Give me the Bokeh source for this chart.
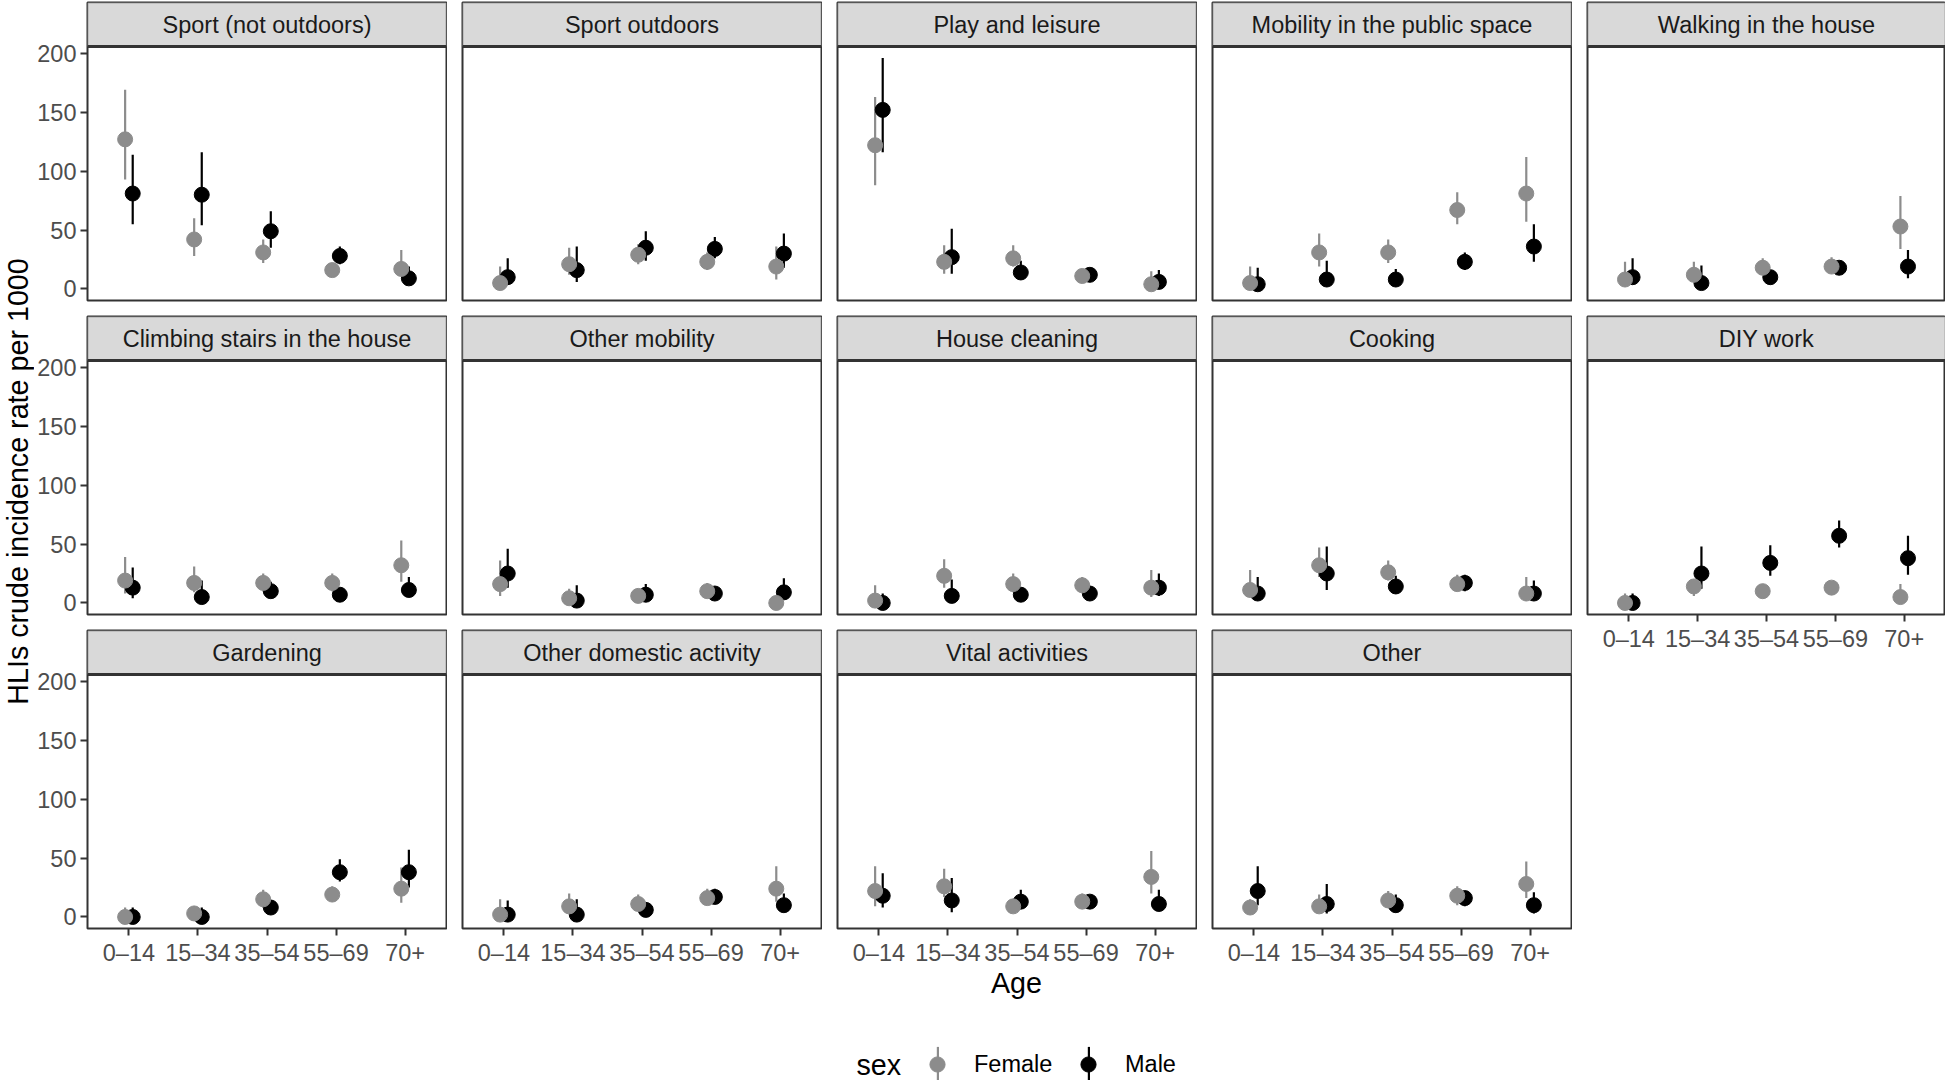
import math
from bokeh.plotting import figure
from bokeh.models import (Range1d, FixedTicker, Label, Legend, LegendItem, ColumnDataSource,
                          BoxAnnotation, Span)
from bokeh.layouts import row, column
from bokeh.embed import file_html
from bokeh.resources import INLINE

# ---------------- data ----------------
ages = ["0–14", "15–34", "35–54", "55–69", "70+"]
sexes = ["Female", "Male"]
activities = [
    "Sport (not outdoors)", "Sport outdoors", "Play and leisure",
    "Mobility in the public space", "Walking in the house",
    "Climbing stairs in the house", "Other mobility", "House cleaning",
    "Cooking", "DIY work", "Gardening", "Other domestic activity",
    "Vital activities", "Other",
]
y_ticks = [0, 50, 100, 150, 200]

# (rate, lower, upper) per age group
sport_indoor_female = [(127, 93, 169), (42, 28, 60), (31, 22, 42), (16, 12, 21), (17, 11, 33)]
sport_indoor_male = [(81, 55, 114), (80, 54, 116), (49, 35, 66), (28, 21, 36), (9, 4, 19)]
sport_outdoor_female = [(5, 2, 19), (21, 12, 35), (29, 21, 38), (23, 16, 31), (19, 8, 36)]
sport_outdoor_male = [(10, 4, 26), (16, 6, 36), (35, 24, 49), (34, 26, 44), (30, 18, 47)]
play_female = [(122, 88, 163), (23, 13, 37), (26, 19, 37), (11, 8, 15), (4, 0, 15)]
play_male = [(152, 116, 196), (27, 13, 51), (14, 8, 24), (12, 8, 16), (6, 1, 16)]
public_mobility_female = [(5, 2, 19), (31, 19, 47), (31, 22, 42), (67, 55, 82), (81, 57, 112)]
public_mobility_male = [(4, 1, 18), (8, 2, 24), (8, 2, 17), (23, 16, 31), (36, 23, 55)]
walking_female = [(8, 2, 23), (12, 8, 23), (18, 13, 26), (19, 14, 27), (53, 34, 79)]
walking_male = [(10, 4, 26), (5, 1, 20), (10, 5, 15), (18, 12, 23), (19, 9, 33)]
stairs_female = [(19, 8, 39), (17, 9, 31), (17, 10, 25), (17, 10, 25), (32, 18, 53)]
stairs_male = [(13, 4, 30), (5, 2, 19), (10, 5, 18), (7, 3, 12), (11, 6, 22)]
other_mobility_female = [(16, 6, 36), (4, 1, 12), (6, 2, 10), (10, 6, 17), (0, 0, 3)]
other_mobility_male = [(25, 13, 46), (2, 0, 15), (7, 3, 16), (8, 4, 13), (9, 5, 21)]
cleaning_female = [(2, 0, 15), (23, 13, 37), (16, 9, 25), (15, 9, 22), (13, 5, 28)]
cleaning_male = [(0, 0, 8), (6, 2, 20), (7, 3, 13), (8, 3, 13), (13, 6, 25)]
cooking_female = [(11, 5, 28), (32, 22, 47), (26, 19, 36), (16, 10, 24), (8, 3, 22)]
cooking_male = [(8, 3, 22), (25, 11, 48), (14, 8, 23), (17, 10, 24), (8, 3, 19)]
diy_female = [(0, 0, 8), (14, 6, 19), (10, 7, 14), (13, 9, 17), (5, 0, 16)]
diy_male = [(0, 0, 8), (25, 12, 48), (34, 23, 49), (57, 47, 70), (38, 24, 57)]
gardening_female = [(0, 0, 8), (3, 0, 9), (15, 8, 23), (19, 13, 26), (24, 12, 42)]
gardening_male = [(0, 0, 8), (0, 0, 8), (8, 4, 14), (38, 30, 49), (38, 25, 57)]
other_domestic_female = [(2, 0, 15), (9, 4, 20), (11, 6, 19), (16, 11, 24), (24, 13, 43)]
other_domestic_male = [(2, 0, 14), (2, 0, 15), (6, 1, 11), (17, 11, 24), (10, 5, 20)]
vital_female = [(22, 9, 43), (26, 17, 41), (9, 5, 14), (13, 8, 20), (34, 20, 56)]
vital_male = [(18, 8, 37), (14, 4, 33), (13, 8, 23), (13, 8, 18), (11, 5, 23)]
other_female = [(8, 3, 15), (9, 5, 19), (14, 8, 22), (18, 10, 26), (28, 16, 47)]
other_male = [(22, 10, 43), (11, 3, 28), (10, 4, 19), (16, 9, 21), (10, 3, 21)]

female_data = [sport_indoor_female, sport_outdoor_female, play_female, public_mobility_female,
               walking_female, stairs_female, other_mobility_female, cleaning_female,
               cooking_female, diy_female, gardening_female, other_domestic_female,
               vital_female, other_female]
male_data = [sport_indoor_male, sport_outdoor_male, play_male, public_mobility_male,
             walking_male, stairs_male, other_mobility_male, cleaning_male,
             cooking_male, diy_male, gardening_male, other_domestic_male,
             vital_male, other_male]

# ---------------- style / layout ----------------
FONT = "Liberation Sans"
FEMALE_COLOR = "#8C8C8C"
MALE_COLOR = "#000000"
BORDER = "#333333"
STRIP_FILL = "#D9D9D9"
TICK_FS = "23.5px"
TITLE_FS = "28.7px"
NCOL = 5
PW = 359            # panel width
PW_LAST = 358
PANEL_H = 254       # data area height
STRIP_H = 44        # facet strip height
TOP_B = 2
ROW_GAP = 14
GAP = 15
YLAB_W = 34
LEFT = 53
AXIS_H = 40
DODGE = 0.055
BOTTOM_H = 112

all_lo = [t[1] for d in female_data + male_data for t in d]
all_hi = [t[2] for d in female_data + male_data for t in d]
ymin, ymax = min(all_lo), max(all_hi)
pad = 0.05 * (ymax - ymin)
Y0, Y1 = ymin - pad, ymax + pad
YTOP = Y1 + STRIP_H * (Y1 - Y0) / PANEL_H
X0, X1 = 0.4, len(ages) + 0.6


def style_axis(ax):
    ax.major_label_text_font = FONT
    ax.major_label_text_font_size = TICK_FS
    ax.major_label_text_color = "#4D4D4D"
    ax.axis_line_color = None
    ax.major_tick_line_color = BORDER
    ax.major_tick_line_width = 2
    ax.major_tick_out = 7
    ax.major_tick_in = 0
    ax.minor_tick_line_color = None
    ax.major_label_standoff = 4


def make_panel(idx, c, show_x, show_y):
    bl = LEFT if c == 0 else GAP
    br = 0 if c == NCOL - 1 else 1
    pw = PW_LAST if c == NCOL - 1 else PW
    bb = AXIS_H if show_x else ROW_GAP
    p = figure(width=bl + pw + br, height=TOP_B + STRIP_H + PANEL_H + bb,
               x_range=Range1d(X0, X1), y_range=Range1d(Y0, YTOP),
               output_backend="svg", toolbar_location=None,
               x_axis_location="below" if show_x else None,
               y_axis_location="left" if show_y else None,
               min_border_left=bl, min_border_right=br, min_border_top=TOP_B,
               min_border_bottom=bb)
    p.grid.visible = False
    p.outline_line_color = BORDER
    p.outline_line_width = 2

    # facet strip
    p.add_layout(BoxAnnotation(bottom=Y1, fill_color=STRIP_FILL, fill_alpha=1.0,
                               line_color=BORDER, line_width=2))
    p.add_layout(Span(location=Y1, dimension="width", line_color=BORDER, line_width=3))
    p.add_layout(Label(x=(X0 + X1) / 2, y=(Y1 + YTOP) / 2, text=activities[idx],
                       text_align="center", text_baseline="middle", text_font=FONT,
                       text_font_size=TICK_FS, text_color="#1A1A1A"))

    srcs = {}
    for sex, data, off in (("Male", male_data[idx], DODGE), ("Female", female_data[idx], -DODGE)):
        srcs[sex] = ColumnDataSource(dict(
            x=[i + 1 + off for i in range(len(ages))],
            y=[t[0] for t in data], lo=[t[1] for t in data], hi=[t[2] for t in data]))
    for sex, col in (("Male", MALE_COLOR), ("Female", FEMALE_COLOR)):
        p.segment(x0="x", y0="lo", x1="x", y1="hi", source=srcs[sex], line_color=col, line_width=2.2)
    for sex, col in (("Male", MALE_COLOR), ("Female", FEMALE_COLOR)):
        p.scatter(x="x", y="y", source=srcs[sex], size=15, fill_color=col, line_color=col)

    if show_x:
        p.xaxis.ticker = FixedTicker(ticks=list(range(1, len(ages) + 1)))
        p.xaxis.major_label_overrides = {i + 1: a for i, a in enumerate(ages)}
        style_axis(p.xaxis[0])
    if show_y:
        p.yaxis.ticker = FixedTicker(ticks=y_ticks)
        style_axis(p.yaxis[0])
    return p


n = len(activities)
columns = []
col_height = 0
for c in range(NCOL):
    kids = []
    r = 0
    while r * NCOL + c < n:
        idx = r * NCOL + c
        kids.append(make_panel(idx, c, idx + NCOL >= n, c == 0))
        r += 1
    columns.append(column(*kids))
    col_height = max(col_height, sum(k.height for k in kids))

total_w = YLAB_W + sum(k.children[0].width for k in columns)

# y axis title
ylab = figure(width=YLAB_W, height=col_height, x_range=Range1d(0, 1),
              y_range=Range1d(col_height, 0), x_axis_location=None, y_axis_location=None,
              output_backend="svg", toolbar_location=None, min_border=0)
ylab.grid.visible = False
ylab.outline_line_color = None
ylab.add_layout(Label(x=YLAB_W / 2, x_units="screen", y=481,
                      text="HLIs crude incidence rate per 1000",
                      angle=math.pi / 2, text_align="center", text_baseline="middle",
                      text_font=FONT, text_font_size=TITLE_FS, text_color="#000000"))

# x axis title + legend
bottom = figure(width=total_w, height=BOTTOM_H, x_range=Range1d(0, total_w),
                y_range=Range1d(0, BOTTOM_H), x_axis_location=None, y_axis_location=None,
                output_backend="svg", toolbar_location=None, min_border=0)
bottom.grid.visible = False
bottom.outline_line_color = None
panels_left = YLAB_W + LEFT
bottom.add_layout(Label(x=(panels_left + total_w) / 2, y=BOTTOM_H - 14, text="Age",
                        text_align="center", text_baseline="middle", text_font=FONT,
                        text_font_size=TITLE_FS, text_color="#000000"))
KEY_Y = 16
bottom.add_layout(Label(x=856, y=KEY_Y, text="sex", text_align="left", text_baseline="middle",
                        text_font=FONT, text_font_size=TITLE_FS, text_color="#000000"))

nan = float("nan")
key_x = {"Female": 937, "Male": 1088}
for sex, col in (("Female", FEMALE_COLOR), ("Male", MALE_COLOR)):
    rl = bottom.vbar(x=[nan], top=[nan], width=1, fill_color=col, line_color=None)
    bottom.add_layout(Legend(items=[LegendItem(label=" ", renderers=[rl])],
                             location=(key_x[sex] - 1.5, KEY_Y - 22), glyph_width=3,
                             glyph_height=44, padding=0, margin=0, border_line_color=None,
                             background_fill_alpha=0, label_text_font_size="1px",
                             label_standoff=0, label_width=0), "center")
for sex, col in (("Female", FEMALE_COLOR), ("Male", MALE_COLOR)):
    rp = bottom.scatter(x=[nan], y=[nan], size=15, fill_color=col, line_color=col)
    bottom.add_layout(Legend(items=[LegendItem(label=sex, renderers=[rp])],
                             location=(key_x[sex] - 19, KEY_Y - 19), glyph_width=38,
                             glyph_height=38, label_standoff=18, padding=0, margin=0,
                             border_line_color=None, background_fill_alpha=0,
                             label_text_font=FONT, label_text_font_size=TICK_FS,
                             label_text_color="#000000"), "center")

layout = column(row(ylab, *columns), bottom)
open("out.html", "w").write(file_html(layout, INLINE))
